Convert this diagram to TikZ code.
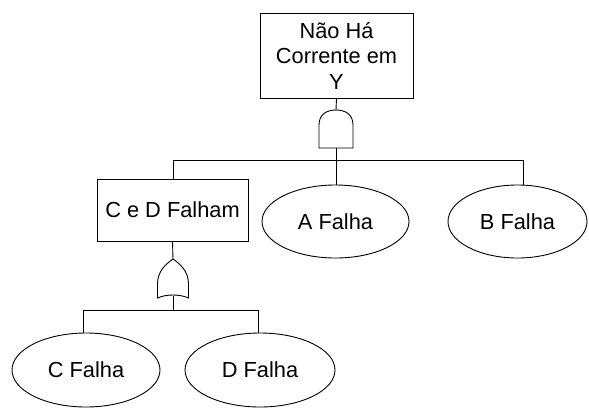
\documentclass[tikz,border=0pt]{standalone}
\usepackage{fontspec}
\setmainfont{Liberation Sans}
\usetikzlibrary{shapes.geometric}

\tikzset{
  evbox/.style={draw, rectangle, inner sep=0pt, align=center},
  basic/.style={draw, ellipse, inner sep=0pt},
  andgate/.pic={
    \draw (-17,38) -- (-17,15) .. controls (-17,4) and (-9,0) .. (0,0)
          .. controls (9,0) and (17,4) .. (17,15) -- (17,38) -- cycle;
  },
  orgate/.pic={
    \draw (-15.5,39) -- (-15.5,25) .. controls (-15.5,12) and (-7,5) .. (0,0)
          .. controls (7,5) and (15.5,12) .. (15.5,25) -- (15.5,39)
          .. controls (7,35) and (-7,35) .. cycle;
  }
}

\begin{document}
\begin{tikzpicture}[x=1pt, y=-1pt, line width=0.9pt,
  every node/.style={font=\fontsize{21.8pt}{25.5pt}\selectfont}]
  \useasboundingbox (0,0) rectangle (589,408);

  % top event
  \node[evbox, minimum width=153pt, minimum height=85pt] (top) at (336.5,55.5)
    {Não Há\\Corrente em\\Y};

  % AND gate under the top event
  \coordinate (andTop) at (336,110);
  \coordinate (andBot) at (336,148);
  \pic at (andTop) {andgate};
  \coordinate (j1) at (336,160);
  \coordinate (jL) at (173,160);
  \coordinate (jR) at (523,160);

  % intermediate event and basic events
  \node[evbox, minimum width=151pt, minimum height=62pt] (cd) at (172.5,210) {C e D Falham};
  \node[basic, minimum width=147pt, minimum height=73pt] (af) at (335.5,221.5) {A Falha};
  \node[basic, minimum width=139pt, minimum height=73pt] (bf) at (517.5,221.5) {B Falha};

  % OR gate under the intermediate event
  \coordinate (orTop) at (173,259);
  \coordinate (orBot) at (173,296);
  \pic at (orTop) {orgate};
  \coordinate (j2) at (173,310);
  \coordinate (kL) at (83,310);
  \coordinate (kR) at (258,310);

  \node[basic, minimum width=148pt, minimum height=74pt] (cf) at (86,370) {C Falha};
  \node[basic, minimum width=150pt, minimum height=74pt] (df) at (260,370) {D Falha};

  % connectors
  \draw (top.south) -- (andTop);
  \draw (andBot) -- (j1);
  \draw (jL) -- (jR);
  \draw (jL) -- (jL |- cd.north);
  \draw (j1) -- (j1 |- af.north);
  \draw (jR) -- (jR |- bf.north);

  \draw (cd.south) -- (orTop);
  \draw (orBot) -- (j2);
  \draw (kL) -- (kR);
  \draw (kL) -- (kL |- cf.north);
  \draw (kR) -- (kR |- df.north);
\end{tikzpicture}
\end{document}
